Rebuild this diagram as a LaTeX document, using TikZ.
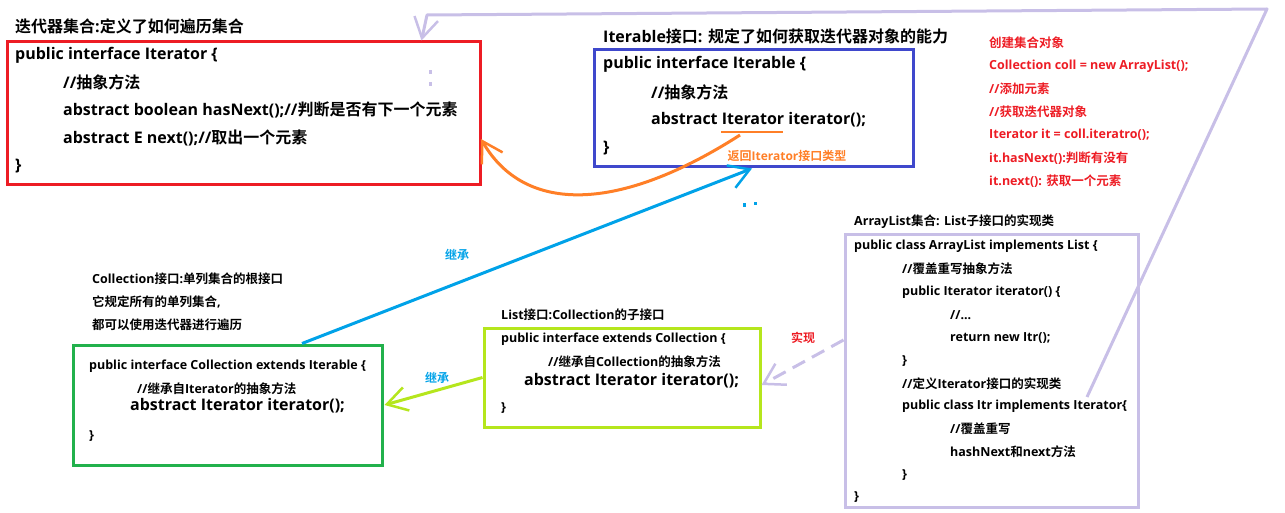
\documentclass[tikz,border=0pt]{standalone}
\usepackage{fontspec}
\setmainfont{Open Sans}
\newfontfamily\cjkfont{Noto Sans CJK SC}[BoldFont={Noto Sans CJK SC Bold}]
\usetikzlibrary{arrows.meta}
\XeTeXinterchartokenstate=1
\newXeTeXintercharclass\CJKcls
\newcount\cjkc
\cjkc="2E80
\loop\XeTeXcharclass\cjkc=\CJKcls\ifnum\cjkc<"9FFF\advance\cjkc by 1\repeat
\cjkc="FF00
\loop\XeTeXcharclass\cjkc=\CJKcls\ifnum\cjkc<"FFEF\advance\cjkc by 1\repeat
\XeTeXinterchartoks 0 \CJKcls={\cjkfont}
\XeTeXinterchartoks 4095 \CJKcls={\cjkfont}
\XeTeXinterchartoks \CJKcls 0={\rmfamily}
\XeTeXinterchartoks \CJKcls 4095={\rmfamily}
\definecolor{pred}{HTML}{ED1C24}
\definecolor{pblue}{HTML}{3F48CC}
\definecolor{pgreen}{HTML}{22B14C}
\definecolor{plime}{HTML}{B5E61D}
\definecolor{plav}{HTML}{C8BFE7}
\definecolor{pcyan}{HTML}{00A2E8}
\definecolor{porange}{HTML}{FF7F27}
\tikzset{
  box/.style={draw=#1, line width=3pt, inner sep=0pt, fill=none},
  bigtxt/.style={anchor=west, inner sep=0pt, font=\bfseries\fontsize{16}{19}\selectfont},
  smalltxt/.style={anchor=west, inner sep=0pt, font=\bfseries\fontsize{12.5}{15}\selectfont},
  redtxt/.style={smalltxt, text=pred},
  lbl/.style={anchor=center, inner sep=0pt, font=\bfseries\fontsize{12}{14}\selectfont},
  barb/.style={line width=3pt, -{Straight Barb[length=20pt,width=24pt,line width=2.5pt]}},
}
\begin{document}
\begin{tikzpicture}[x=1pt,y=-1pt]
\useasboundingbox (0,0) rectangle (1285,513);
% boxes
\node[box=pred, minimum width=473, minimum height=143] (iterbox) at (243.5,113.5) {};
\node[box=pblue, minimum width=319, minimum height=117] (iterablebox) at (753.5,108.5) {};
\node[box=pgreen, minimum width=309, minimum height=120] (collbox) at (227.5,405) {};
\node[box=plime, minimum width=276, minimum height=99] (listbox) at (622,377.5) {};
\node[box=plav, minimum width=293, minimum height=272] (albox) at (991.5,371) {};
% Iterator
\node[bigtxt] (t1) at (15,26) {迭代器集合:定义了如何遍历集合};
\node[bigtxt] (t2) at (15,55) {public interface Iterator \{};
\node[bigtxt] (t3) at (63,82) {//抽象方法};
\node[bigtxt] (t4) at (63,110) {abstract boolean hasNext();//判断是否有下一个元素};
\node[bigtxt] (t5) at (63,138) {abstract E next();//取出一个元素};
\node[bigtxt] (t6) at (15,166) {\}};
% Iterable
\node[bigtxt] (b1) at (603,36) {Iterable接口: 规定了如何获取迭代器对象的能力};
\node[bigtxt] (b2) at (603,64) {public interface Iterable \{};
\node[bigtxt] (b3) at (651,92) {//抽象方法};
\node[bigtxt] (b4) at (651,120) {abstract Iterator iterator();};
\node[bigtxt] (b5) at (603,148) {\}};
\node[lbl, text=porange] (ret) at (787,156) {返回Iterator接口类型};
\draw[porange, line width=2pt] (721,132) -- (783,132);
% red notes
\node[redtxt] (r1) at (989,43) {创建集合对象};
\node[redtxt] (r2) at (989,66) {Collection coll = new ArrayList();};
\node[redtxt] (r3) at (989,89) {//添加元素};
\node[redtxt] (r4) at (989,112) {//获取迭代器对象};
\node[redtxt] (r5) at (989,135) {Iterator it = coll.iteratro();};
\node[redtxt] (r6) at (989,158) {it.hasNext():判断有没有};
\node[redtxt] (r7) at (989,181) {it.next(): 获取一个元素};
% Collection
\node[smalltxt] (c1) at (92,279) {Collection接口:单列集合的根接口};
\node[smalltxt] (c2) at (92,302) {它规定所有的单列集合,};
\node[smalltxt] (c3) at (92,325) {都可以使用迭代器进行遍历};
\node[smalltxt] (c4) at (89,366) {public interface Collection extends Iterable \{};
\node[smalltxt] (c5) at (137,389) {//继承自Iterator的抽象方法};
\node[bigtxt] (c6) at (130,406) {abstract Iterator iterator();};
\node[smalltxt] (c7) at (89,436) {\}};
% List
\node[smalltxt] (l1) at (501,315) {List接口:Collection的子接口};
\node[smalltxt] (l2) at (501,339) {public interface extends Collection \{};
\node[smalltxt] (l3) at (548,362) {//继承自Collection的抽象方法};
\node[bigtxt] (l4) at (524,381) {abstract Iterator iterator();};
\node[smalltxt] (l5) at (501,408) {\}};
% ArrayList
\node[smalltxt] (a0) at (854,222) {ArrayList集合: List子接口的实现类};
\node[smalltxt] (a1) at (854,246) {public class ArrayList implements List \{};
\node[smalltxt] (a2) at (902,269) {//覆盖重写抽象方法};
\node[smalltxt] (a3) at (902,292) {public Iterator iterator() \{};
\node[smalltxt] (a4) at (950,315) {//...};
\node[smalltxt] (a5) at (950,338) {return new Itr();};
\node[smalltxt] (a6) at (902,361) {\}};
\node[smalltxt] (a7) at (902,384) {//定义Iterator接口的实现类};
\node[smalltxt] (a8) at (902,406) {public class Itr implements Iterator\{};
\node[smalltxt] (a9) at (950,429) {//覆盖重写};
\node[smalltxt] (a10) at (950,452) {hashNext和next方法};
\node[smalltxt] (a11) at (902,475) {\}};
\node[smalltxt] (a12) at (854,497) {\}};
% labels
\node[lbl, text=pcyan] (inh1) at (457,255) {继承};
\node[lbl, text=pcyan] (inh2) at (437,378) {继承};
\node[lbl, text=pred] (impl) at (803,338) {实现};
% connectors
\coordinate (ostart) at (740,135);
\coordinate (oend) at (481,139);
\draw[barb, porange] (ostart) .. controls (620,212) and (525,215) .. (oend);
\draw[barb, pcyan] ([xshift=74.5pt]collbox.north) -- ([xshift=-1.5pt]iterablebox.south);
\draw[barb, plime] (listbox.west) -- ([xshift=1pt]collbox.east);
\draw[barb, plav, dash pattern=on 14pt off 8pt] ([yshift=31pt]albox.west) -- ([yshift=-7.5pt]listbox.east);
\coordinate (lavstart) at (1087,397);
\coordinate (lavtop) at (1267,9);
\coordinate (lavleft) at (427,15);
\draw[barb, plav, line join=round] (lavstart) -- (lavtop) -- (lavleft) -- ([xshift=-60pt]iterbox.north east);
% small marks
\fill[plav] (428.5,70) rectangle (431.5,74);
\fill[plav] (428.5,82) rectangle (431.5,86);
\fill[pcyan] (743,203) rectangle (746,207);
\fill[pcyan] (754,202) rectangle (757,205);
\end{tikzpicture}
\end{document}
